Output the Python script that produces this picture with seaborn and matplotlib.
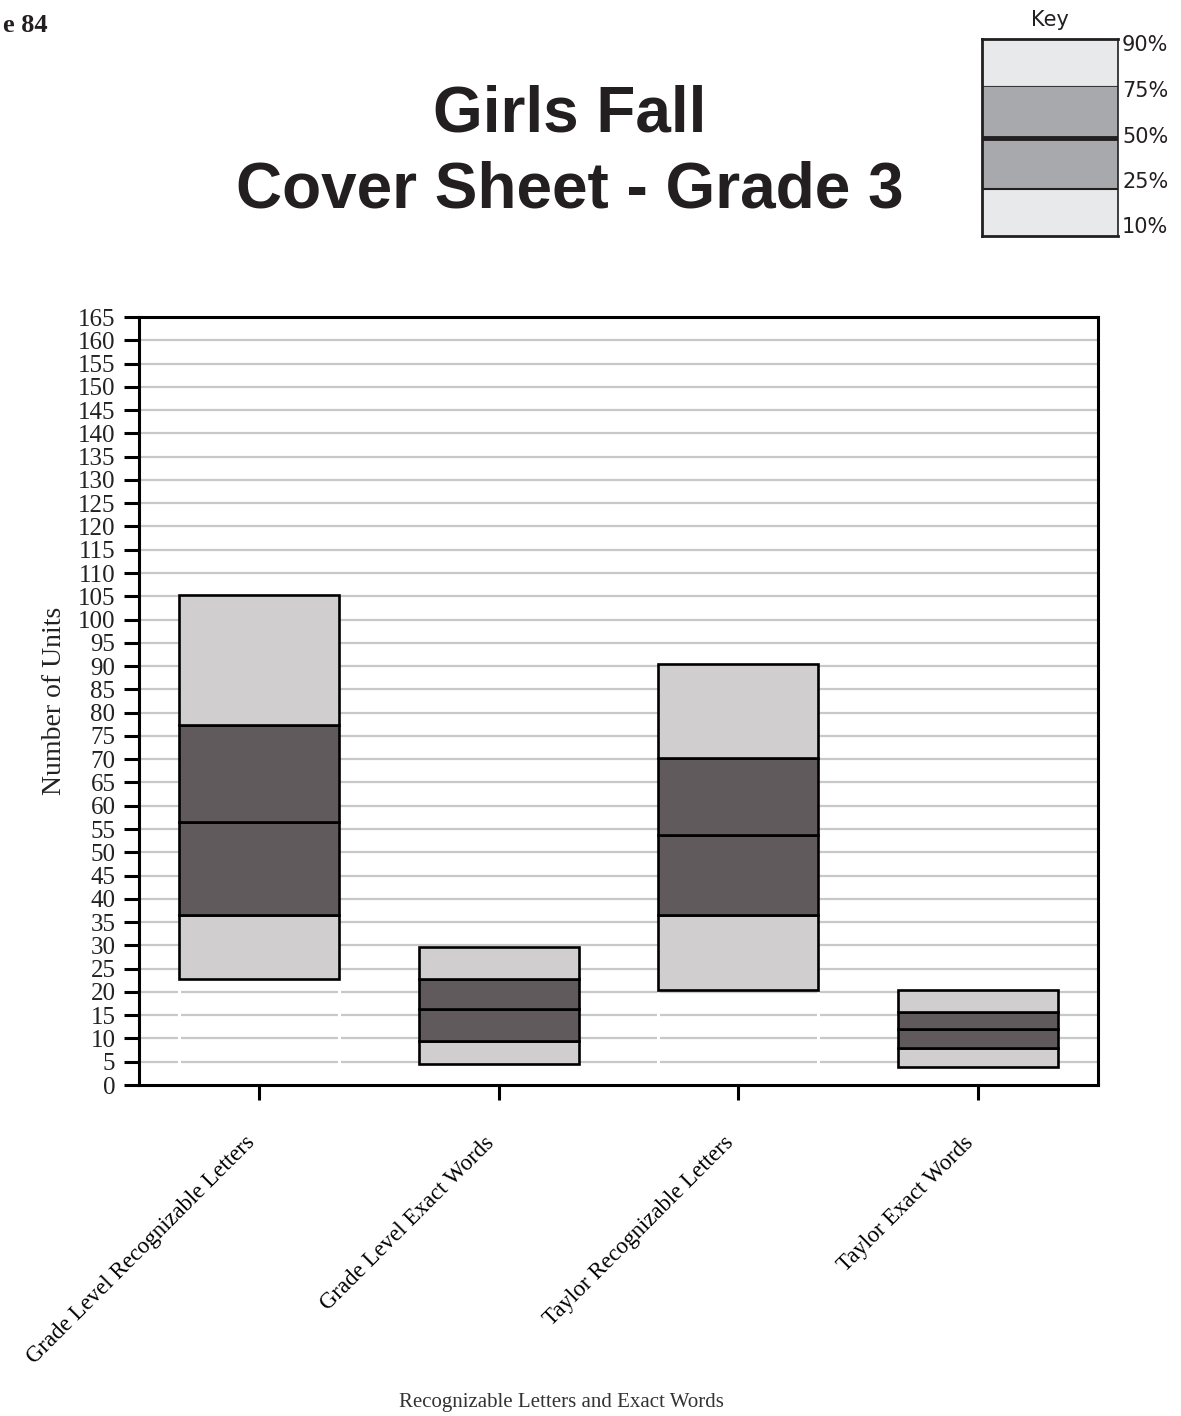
import matplotlib
matplotlib.use("Agg")
import matplotlib.pyplot as plt
import seaborn as sns
import pandas as pd
import numpy as np

# ---- data ----
categories = ["Grade Level Recognizable Letters", "Grade Level Exact Words",
              "Taylor Recognizable Letters", "Taylor Exact Words"]
p10 = [22.8, 4.5, 20.4, 3.9]
p25 = [36.5, 9.5, 36.5, 7.9]
p50 = [56.6, 16.3, 53.7, 12.0]
p75 = [77.3, 22.8, 70.3, 15.7]
p90 = [105.3, 29.6, 90.5, 20.4]
key_labels = ["90%", "75%", "50%", "25%", "10%"]
y_ticks = list(range(0, 170, 5))

LIGHT = "#d0cecf"
DARK = "#605a5c"
GRID = "#c8c8c8"

sns.set_theme(style="white")
plt.rcParams["font.family"] = ["Liberation Serif", "DejaVu Serif"]

fig = plt.figure(figsize=(11.81, 14.16), dpi=100)
ax = fig.add_axes([139/1181, 1 - 1085/1416, (1098-139)/1181, (1085-317)/1416])

df = pd.DataFrame({"cat": categories, "p10": p10, "p25": p25, "p50": p50,
                   "p75": p75, "p90": p90})
segments = [("p10", "p25", LIGHT), ("p25", "p50", DARK),
            ("p50", "p75", DARK), ("p75", "p90", LIGHT)]
bw = 0.667
for lo, hi, col in segments:
    sns.barplot(x=df["cat"], y=df[hi] - df[lo], bottom=df[lo].values,
                color=col, edgecolor="black", linewidth=1.9, width=bw,
                saturation=1, ax=ax, zorder=3)

# grid lines
for t in y_ticks[1:-1]:
    ax.axhline(t, color=GRID, lw=1.6, zorder=1)
# small white gaps in grid below bars at bar edges
xs = np.arange(len(categories))
for x0, b in zip(xs, p10):
    ax.vlines([x0 - bw/2, x0 + bw/2], 0.3, b - 0.5, color="white", lw=2.2, zorder=2)

ax.set_xlim(-0.5, 3.5)
ax.set_ylim(0, 165)
ax.set_yticks(y_ticks)
ax.set_yticklabels([str(t) for t in y_ticks], fontsize=18)
ax.set_xticks(xs)
ax.set_xticklabels(categories, rotation=45, ha="right", va="top",
                   rotation_mode="default", fontsize=16.5, color="#333333")
ax.tick_params(axis="y", which="major", direction="out", length=11, width=2.2,
               pad=6, left=True, colors="black", labelcolor="#222222")
ax.tick_params(axis="x", which="major", direction="out", length=11, width=2.2,
               pad=23, bottom=True, colors="black")
for s in ax.spines.values():
    s.set_visible(True)
    s.set_color("black")
    s.set_linewidth(2.2)
ax.set_ylabel("Number of Units", fontsize=20, color="#222222", labelpad=8)
ax.set_xlabel("")
fig.text(561/1181, 1 - 1403/1416, "Recognizable Letters and Exact Words",
         ha="center", va="center", fontsize=15, color="#333333",
         family=["Liberation Serif", "DejaVu Serif"])

# titles
fig.text(570/1181, 1 - 115/1416, "Girls Fall", ha="center", va="center",
         fontsize=46, fontweight="bold", color="#231f20",
         family=["Liberation Sans", "DejaVu Sans"])
fig.text(570/1181, 1 - 190/1416, "Cover Sheet - Grade 3", ha="center", va="center",
         fontsize=46, fontweight="bold", color="#231f20",
         family=["Liberation Sans", "DejaVu Sans"])
fig.text(48/1181, 1 - 25/1416, "e 84", ha="right", va="center",
         fontsize=19, fontweight="bold", color="#231f20",
         family=["Liberation Serif", "DejaVu Serif"])

# key (legend box), pixel-space layout
kax = fig.add_axes([982/1181, 1 - 236/1416, (1118-982)/1181, (236-39)/1416])
kax.set_xlim(0, 1)
kax.set_ylim(236, 39)
band_edges = [39, 86, 138, 189, 236]
band_cols = ["#e8e9eb", "#a7a9ac", "#a7a9ac", "#e8e9eb"]
for i, c in enumerate(band_cols):
    kax.axhspan(band_edges[i], band_edges[i + 1], color=c, zorder=1)
kax.axhline(189, color="#231f20", lw=1.5, zorder=2)
kax.axhline(86, color="#231f20", lw=0.6, zorder=2)
kax.axhline(138, color="#231f20", lw=3.5, zorder=2)
kax.set_xticks([])
kax.set_yticks([])
for s in kax.spines.values():
    s.set_visible(True)
    s.set_color("#231f20")
    s.set_linewidth(2)
kax.spines["right"].set_linewidth(1.2)
label_y = [45, 91, 137, 182, 227]
for ly, lab in zip(label_y, key_labels):
    kax.text(1.03, ly, lab, ha="left", va="center", fontsize=15,
             color="#231f20", family=["Liberation Sans Narrow", "DejaVu Sans"],
             clip_on=False)
fig.text(1050/1181, 1 - 20/1416, "Key", ha="center", va="center", fontsize=15,
         color="#231f20", family=["Liberation Sans Narrow", "DejaVu Sans"])

fig.savefig("out.png", dpi=100)
